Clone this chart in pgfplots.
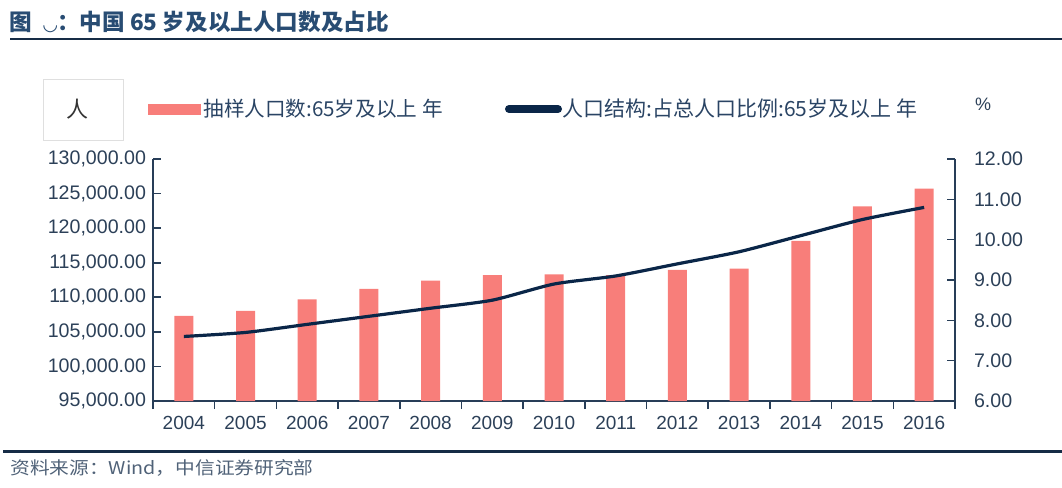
\documentclass[border=0pt]{standalone}
\usepackage{pgfplots}
\pgfplotsset{compat=1.18}
\usepackage{fontspec}
\setmainfont{Liberation Sans}
\newfontfamily\cjk{Noto Sans CJK SC}
\newfontfamily\cjkwide{Noto Sans CJK SC}[FakeStretch=1.12]
\newfontfamily\symfont{DejaVu Sans}

\definecolor{barc}{RGB}{248,126,122}
\definecolor{linec}{RGB}{10,38,72}
\definecolor{axisc}{RGB}{40,62,88}
\definecolor{textc}{RGB}{44,64,88}
\definecolor{legc}{RGB}{42,68,100}
\definecolor{titlec}{RGB}{40,76,115}
\definecolor{rulec}{RGB}{22,44,70}
\definecolor{footc}{RGB}{80,98,120}

% 65+ sample population (persons) and share of total population (%)
\pgfplotstableread{
idx year pop share
0 2004 107300 7.6
1 2005 108050 7.7
2 2006 109700 7.9
3 2007 111200 8.1
4 2008 112400 8.3
5 2009 113200 8.5
6 2010 113300 8.9
7 2011 113200 9.1
8 2012 113950 9.4
9 2013 114150 9.7
10 2014 118150 10.1
11 2015 123150 10.5
12 2016 125700 10.8
}\datatable

\begin{document}
\begin{tikzpicture}[x=0.5pt,y=0.5pt]
\path[use as bounding box] (0,0) rectangle (1062,488);

% title and rules
\node[anchor=west,inner sep=0pt,text=titlec,font={\cjk\bfseries\fontsize{11.3}{13}\selectfont}]
  at (9,466) {图\enspace{\symfont\fontsize{9}{11}\selectfont ◡}：中国 65 岁及以上人口数及占比};
\draw[rulec,line width=1pt] (10,449) -- (1062,449);
\draw[rulec,line width=1.5pt] (3,36) -- (1062,36);
\node[anchor=west,inner sep=0pt,text=footc,font={\cjkwide\fontsize{8.8}{10}\selectfont}]
  at (10,20) {资料来源：Wind，中信证券研究部};

% unit box and legend
\draw[gray!25,line width=0.4pt] (43,348) rectangle (123,409);
\node[text=black!80,font={\cjk\fontsize{11}{13}\selectfont}] at (78,379) {人};
\node[text=textc,font={\fontsize{9}{10}\selectfont}] at (983,384) {\%};

\fill[barc] (148,373) rectangle (201,384);
\node[anchor=west,inner sep=0pt,text=legc,font={\cjk\fontsize{10.3}{12}\selectfont}]
  at (203,379) {抽样人口数:65岁及以上 年};
\draw[linec,line width=4pt,line cap=round] (509,379) -- (558,379);
\node[anchor=west,inner sep=0pt,text=legc,font={\cjk\fontsize{10.5}{12}\selectfont}]
  at (562,379) {人口结构:占总人口比例:65岁及以上 年};

\pgfplotsset{
  common/.style={
    at={(76.5pt,43.5pt)}, anchor=south west,
    scale only axis, width=401pt, height=121pt,
    xmin=-0.5, xmax=12.5,
    axis line style={axisc,line width=0.9pt},
    tick style={axisc,line width=0.8pt},
    major tick length=4pt, minor tick length=4pt,
    ticklabel style={text=textc},
    /pgf/number format/assume math mode=true,
  }
}

% bars, left axis
\begin{axis}[common,
  axis x line*=bottom, axis y line*=left,
  ymin=95000, ymax=130000,
  ytick={95000,100000,...,130000},
  scaled y ticks=false,
  yticklabel style={font=\fontsize{9.8}{11}\selectfont,
    /pgf/number format/.cd,fixed,fixed zerofill,precision=2,1000 sep={,}},
  ytick align=inside,
  xtick={0,...,12},
  xticklabels={2004,2005,2006,2007,2008,2009,2010,2011,2012,2013,2014,2015,2016},
  xticklabel style={font=\fontsize{9.5}{11}\selectfont},
  major x tick style={draw=none},
  minor xtick={-0.5,0.5,...,12.5},
  xtick align=outside,
]
\addplot[ybar,bar width=9.5pt,fill=barc,draw=none] table[x=idx,y=pop] {\datatable};
\end{axis}

% share line, right axis
\begin{axis}[common,
  axis x line=none, axis y line*=right,
  ymin=6, ymax=12,
  ytick={6,...,12},
  yticklabel style={font=\fontsize{9.8}{11}\selectfont,xshift=6pt,
    /pgf/number format/.cd,fixed,fixed zerofill,precision=2},
  ytick align=inside,
]
\addplot[linec,line width=1.6pt,smooth,tension=0.4,no marks] table[x=idx,y=share] {\datatable};
\end{axis}
\end{tikzpicture}
\end{document}
